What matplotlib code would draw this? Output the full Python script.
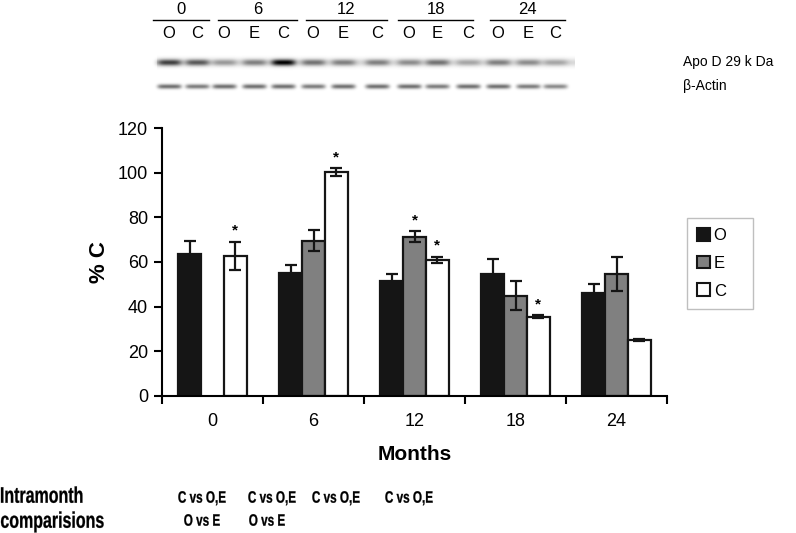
import numpy as np
import matplotlib
matplotlib.use("Agg")
import matplotlib.pyplot as plt
from matplotlib.patches import Patch, PathPatch
from matplotlib.textpath import TextPath
from matplotlib.font_manager import FontProperties
from matplotlib.transforms import Affine2D

plt.rcParams["font.family"] = ["Liberation Sans", "DejaVu Sans"]

# Данные графика
months = ["0", "6", "12", "18", "24"]
groups = ["O", "E", "C"]
vals_o = [63.5, 55.0, 51.5, 54.5, 46.0]
vals_e = [np.nan, 69.5, 71.3, 45.0, 54.6]
vals_c = [62.7, 100.2, 60.9, 35.5, 25.0]
err_o = [6.0, 3.7, 3.0, 6.7, 4.2]
err_e = [np.nan, 4.7, 2.5, 6.3, 7.5]
err_c = [6.2, 1.8, 1.5, 0.7, 0.5]
star_o = [False, False, False, False, False]
star_e = [False, False, True, False, False]
star_c = [True, True, True, True, False]
comparisons_top = ["C vs O,E", "C vs O,E", "C vs O,E", "C vs O,E"]
comparisons_bottom = ["O vs E", "O vs E"]

# Блот: дорожки и интенсивность полос
lane_labels = ["O", "C", "O", "E", "C", "O", "E", "C", "O", "E", "C", "O", "E", "C"]
lane_x = [169, 197, 224, 254, 283, 313, 343, 377, 409, 437, 468, 498, 528, 555]
apod_int = [0.6, 0.5, 0.25, 0.35, 0.85, 0.4, 0.35, 0.35, 0.3, 0.4, 0.2, 0.35, 0.3, 0.2]
actin_int = [0.55, 0.5, 0.55, 0.55, 0.55, 0.5, 0.55, 0.55, 0.55, 0.5, 0.55, 0.55, 0.5, 0.45]
blot_groups = ["0", "6", "12", "18", "24"]
blot_lines = [(153, 209), (218, 297), (306, 387), (398, 473), (490, 565)]


# узкий жирный текст (аналог Arial Narrow) через TextPath
def narrow_text(ax, x, y, s, size, ha="center", sx=0.71):
    prop = FontProperties(family="Liberation Sans", weight="bold")
    tp = TextPath((0, 0), s, size=size, prop=prop)
    ext = tp.get_extents()
    cap = TextPath((0, 0), "I", size=size, prop=prop).get_extents()
    x0 = ext.x0 if ha == "left" else (ext.x0 + ext.x1) / 2
    tr = Affine2D().translate(-x0, -(cap.y0 + cap.y1) / 2).scale(sx, -1).translate(x, y)
    ax.add_patch(PathPatch(tr.transform_path(tp), facecolor="black",
                           edgecolor="black", lw=0.2))


fig = plt.figure(figsize=(7.96, 5.33), dpi=100)

# накладной слой в пиксельных координатах
over = fig.add_axes([0, 0, 1, 1])
W, H = 440, 60
xx = np.arange(W)[None, :] + 150
yy = np.arange(H)[:, None] + 45
img = np.zeros((H, W))
smear = (xx > 156) & (xx < 575)
img += 0.15 * smear * np.exp(-((yy - 62) / 4.0) ** 2)
for cx, a, b in zip(lane_x, apod_int, actin_int):
    img += a * np.exp(-((xx - cx) / 12.0) ** 4) * np.exp(-((yy - 62) / 3.2) ** 2)
    img += b * np.exp(-((xx - cx) / 12.0) ** 6) * np.exp(-((yy - 86) / 2.4) ** 2)
img = np.clip(img, 0, 1)
over.imshow(1 - img, cmap="gray", vmin=0, vmax=1, extent=(150, 150 + W, 45 + H, 45),
            interpolation="bilinear")
for lab, (x0, x1) in zip(blot_groups, blot_lines):
    over.plot([x0, x1], [20, 20], color="black", lw=1)
    over.text((x0 + x1) / 2, 9, lab, ha="center", va="center", fontsize=12)
for lab, x in zip(lane_labels, lane_x):
    over.text(x, 33, lab, ha="center", va="center", fontsize=12)
over.text(683, 62, "Apo D 29 k Da", ha="left", va="center", fontsize=10)
over.text(683, 86, "β-Actin", ha="left", va="center", fontsize=10)

narrow_text(over, 1, 495, "Intramonth", 22.5, ha="left")
narrow_text(over, 1, 520, "comparisions", 22.5, ha="left")
for t, x in zip(comparisons_top, [202, 272, 336, 409]):
    narrow_text(over, x, 497, t, 16.5)
for t, x in zip(comparisons_bottom, [202, 267]):
    narrow_text(over, x, 520, t, 16.5)
over.set_xlim(0, 796)
over.set_ylim(533, 0)
over.axis("off")

# основной график
ax = fig.add_axes([162 / 796, 137 / 533, 505 / 796, 268 / 533])
ax.set_facecolor("none")
x = np.arange(len(months))
w = 0.225
series = [
    (vals_o, err_o, star_o, "#151515"),
    (vals_e, err_e, star_e, "#808080"),
    (vals_c, err_c, star_c, "white"),
]
for i, (v, e, s, col) in enumerate(series):
    pos = x + (i - 1) * w
    ax.bar(pos, v, w, color=col, edgecolor="#151515", linewidth=1.6, label=groups[i])
    ax.errorbar(pos, v, yerr=e, fmt="none", ecolor="#151515", elinewidth=1.6,
                capsize=4, capthick=1.6)
    for p, vv, ee, ss in zip(pos, v, e, s):
        if ss:
            ax.text(p, vv + ee + 5, "*", ha="center", va="center", fontsize=11,
                    fontweight="bold")

ax.set_xlim(-0.5, len(months) - 0.5)
ax.set_ylim(0, 120)
ax.set_yticks(np.arange(0, 121, 20))
ax.set_xticks(x)
ax.set_xticklabels(months)
ax.set_xticks(np.arange(-0.5, len(months), 1), minor=True)
ax.tick_params(axis="x", which="major", length=0, pad=12, labelsize=13)
ax.tick_params(axis="x", which="minor", length=6, width=1.5, direction="out")
ax.tick_params(axis="y", length=6, width=1.5, labelsize=13, pad=4)
for side in ["top", "right"]:
    ax.spines[side].set_visible(False)
for side in ["left", "bottom"]:
    ax.spines[side].set_linewidth(1.5)
ax.set_xlabel("Months", fontsize=15, fontweight="bold", labelpad=11)
ax.set_ylabel("% C", fontsize=16, fontweight="bold", labelpad=6)

handles = [Patch(facecolor=c, edgecolor="#151515", linewidth=1.5) for _, _, _, c in series]
leg = fig.legend(handles, groups, loc="upper left",
                 bbox_to_anchor=(687 / 796, 1 - 305 / 533, 66 / 796, 87 / 533),
                 mode="expand", borderaxespad=0, frameon=True,
                 fancybox=False, edgecolor="#b0b0b0", fontsize=12,
                 handlelength=0.8, handleheight=0.8, handletextpad=0.2,
                 labelspacing=0.75, borderpad=0.6)
leg.get_frame().set_linewidth(1)

fig.savefig("out.png", dpi=100)
